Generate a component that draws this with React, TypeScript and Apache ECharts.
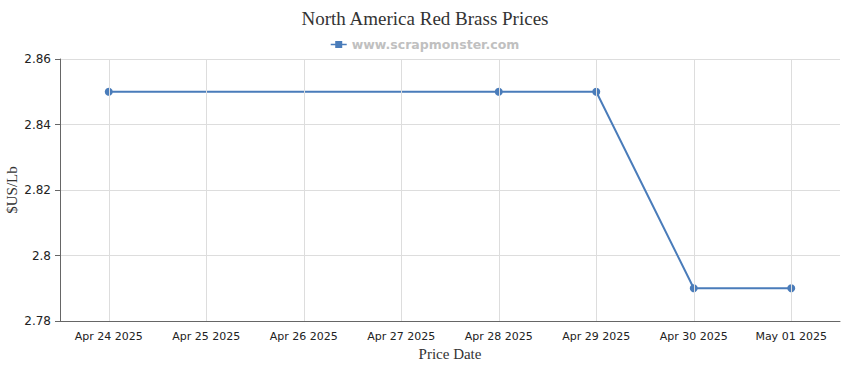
import React, { useEffect, useRef } from "react";
import * as echarts from "echarts";

const categories = [
  "Apr 24 2025",
  "Apr 25 2025",
  "Apr 26 2025",
  "Apr 27 2025",
  "Apr 28 2025",
  "Apr 29 2025",
  "Apr 30 2025",
  "May 01 2025",
];
const prices: (number | null)[] = [2.85, null, null, null, 2.85, 2.85, 2.79, 2.79];
const seriesName = "www.scrapmonster.com";
const yMin = 2.78;
const yMax = 2.86;
const yStep = 0.02;

const serif = "'Liberation Serif', 'DejaVu Serif', serif";
const sans = "'DejaVu Sans', sans-serif";
const lineColor = "#4a7cba";

export default function App() {
  const ref = useRef<HTMLDivElement>(null);
  useEffect(() => {
    document.body.style.margin = "0";
    if (!ref.current) return;
    const chart = echarts.init(ref.current, undefined, { renderer: "svg" });
    chart.setOption({
      animation: false,
      backgroundColor: "#ffffff",
      title: {
        text: "North America Red Brass Prices",
        left: "center",
        top: 4,
        textStyle: {
          fontFamily: serif,
          fontWeight: "normal",
          fontSize: 19,
          color: "#333333",
        },
      },
      legend: {
        top: 33,
        left: "center",
        itemWidth: 16,
        itemHeight: 8,
        itemGap: 4,
        data: [
          {
            name: seriesName,
            icon: "path://M0,3.2 H16 V4.8 H0 Z M4.5,0.5 H11.5 V7.5 H4.5 Z",
          },
        ],
        textStyle: {
          fontFamily: sans,
          fontWeight: "bold",
          fontSize: 12.5,
          color: "#c0c0c0",
        },
      },
      grid: { left: 60, right: 10, top: 59, bottom: 49, containLabel: false, outerBoundsMode: "none" },
      xAxis: {
        type: "category",
        data: categories,
        boundaryGap: true,
        name: "Price Date",
        nameLocation: "middle",
        nameGap: 25,
        nameMoveOverlap: false,
        nameTextStyle: {
          fontFamily: serif,
          fontSize: 15,
          color: "#333333",
        },
        axisLine: { lineStyle: { color: "#666666", width: 1 } },
        axisTick: { alignWithLabel: true, length: 5, lineStyle: { color: "#666666" } },
        axisLabel: {
          fontFamily: sans,
          fontSize: 11,
          color: "#222222",
          margin: 10,
        },
        splitLine: { show: false },
      },
      yAxis: {
        type: "value",
        min: yMin,
        max: yMax,
        interval: yStep,
        name: "$US/Lb",
        nameLocation: "middle",
        nameGap: 41,
        nameMoveOverlap: false,
        nameTextStyle: {
          fontFamily: serif,
          fontSize: 15,
          color: "#333333",
        },
        axisLine: { show: true, lineStyle: { color: "#666666", width: 1 } },
        axisTick: { show: true, length: 5, lineStyle: { color: "#666666" } },
        axisLabel: {
          fontFamily: sans,
          fontSize: 12,
          color: "#222222",
          margin: 9,
        },
        splitLine: { lineStyle: { color: "#dddddd", width: 1 } },
      },
      series: [
        {
          type: "line",
          name: "__grid",
          data: [],
          z: 1,
          silent: true,
          markLine: {
            silent: true,
            symbol: ["none", "none"],
            label: { show: false },
            lineStyle: { color: "#dddddd", type: "solid", width: 1 },
            data: categories.map((c) => ({ xAxis: c })),
          },
        },
        {
          type: "line",
          name: seriesName,
          data: prices,
          connectNulls: true,
          z: 3,
          symbol: "circle",
          symbolSize: 8,
          showAllSymbol: true,
          color: lineColor,
          lineStyle: { color: lineColor, width: 2 },
          itemStyle: { color: lineColor },
        },
      ],
    });
    return () => chart.dispose();
  }, []);
  return <div ref={ref} style={{ width: 850, height: 370, position: "absolute", left: 0, top: 0 }} />;
}
